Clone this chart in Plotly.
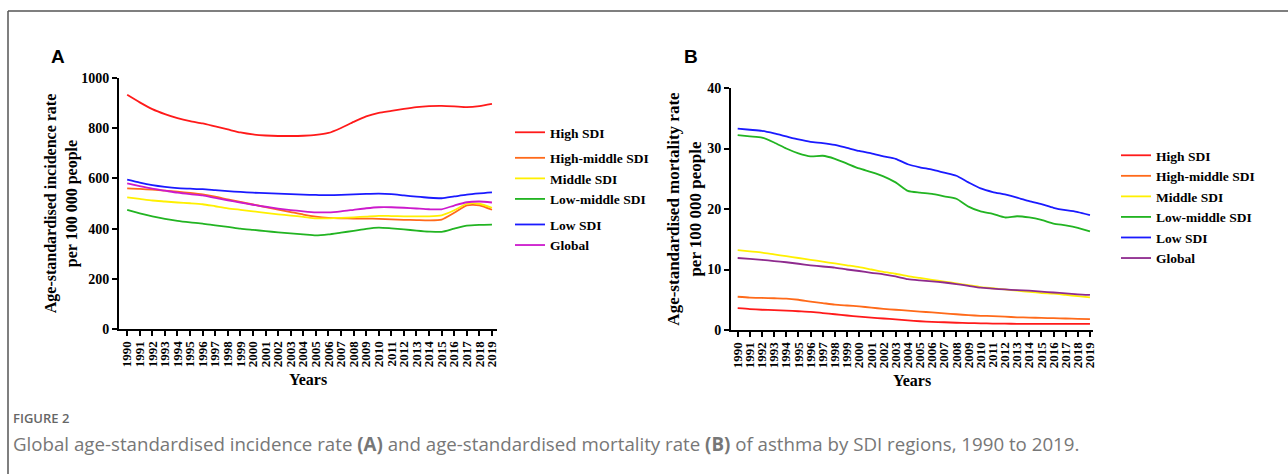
import plotly.graph_objects as go

years = list(range(1990, 2020))
series_names = ["High SDI", "High-middle SDI", "Middle SDI", "Low-middle SDI", "Low SDI", "Global"]
legend_groups_a = ["g1", "g2", "g2", "g2", "g3", "g3"]

# Panel A: age-standardised incidence rate per 100 000
inc_high = [933, 903, 876, 856, 840, 828, 819, 807, 795, 783, 775, 771, 769, 769, 770, 773, 781, 801, 825, 847, 861, 869, 877, 884, 888, 889, 887, 884, 888, 897]
inc_high_middle = [560, 558, 555, 551, 547, 542, 536, 527, 516, 506, 496, 486, 476, 466, 456, 448, 443, 441, 440, 440, 439, 437, 435, 434, 433, 436, 463, 493, 493, 475]
inc_middle = [524, 518, 512, 508, 504, 501, 497, 489, 481, 475, 469, 463, 457, 452, 447, 441, 441, 443, 445, 448, 451, 450, 449, 449, 449, 453, 473, 499, 499, 483]
inc_low_middle = [475, 461, 449, 439, 431, 425, 420, 413, 407, 400, 395, 390, 385, 381, 377, 373, 377, 384, 391, 399, 404, 401, 397, 392, 388, 387, 400, 412, 415, 416]
inc_low = [595, 583, 573, 566, 561, 559, 557, 553, 549, 546, 543, 541, 539, 537, 535, 534, 533, 534, 536, 538, 539, 537, 532, 527, 523, 521, 528, 535, 540, 544]
inc_global = [580, 569, 559, 551, 543, 537, 532, 522, 513, 504, 495, 487, 480, 474, 469, 465, 465, 469, 475, 481, 485, 485, 483, 480, 477, 477, 492, 505, 508, 504]

# Panel B: age-standardised mortality rate per 100 000
mort_high = [3.6, 3.45, 3.35, 3.3, 3.2, 3.1, 3.0, 2.8, 2.6, 2.4, 2.2, 2.05, 1.9, 1.75, 1.6, 1.45, 1.35, 1.28, 1.2, 1.15, 1.1, 1.07, 1.05, 1.02, 1.0, 1.0, 1.0, 1.0, 1.0, 1.0]
mort_high_middle = [5.5, 5.35, 5.3, 5.25, 5.2, 5.0, 4.7, 4.45, 4.2, 4.05, 3.9, 3.7, 3.5, 3.35, 3.2, 3.05, 2.9, 2.75, 2.6, 2.45, 2.35, 2.3, 2.2, 2.1, 2.05, 2.0, 1.95, 1.9, 1.85, 1.8]
mort_middle = [13.2, 13.0, 12.8, 12.5, 12.2, 11.9, 11.6, 11.3, 11.0, 10.7, 10.4, 10.0, 9.6, 9.3, 8.9, 8.6, 8.3, 8.0, 7.7, 7.4, 7.1, 6.9, 6.7, 6.5, 6.3, 6.1, 6.0, 5.8, 5.6, 5.4]
mort_low_middle = [32.2, 32.0, 31.8, 31.0, 30.0, 29.2, 28.7, 28.8, 28.3, 27.5, 26.7, 26.1, 25.4, 24.4, 23.0, 22.7, 22.5, 22.1, 21.7, 20.4, 19.6, 19.2, 18.6, 18.8, 18.6, 18.2, 17.6, 17.3, 16.9, 16.3]
mort_low = [33.3, 33.1, 32.9, 32.5, 32.0, 31.5, 31.1, 30.9, 30.6, 30.1, 29.6, 29.2, 28.7, 28.3, 27.4, 26.9, 26.5, 26.0, 25.5, 24.4, 23.4, 22.8, 22.4, 21.9, 21.3, 20.8, 20.2, 19.8, 19.5, 19.0]
mort_global = [11.9, 11.75, 11.6, 11.4, 11.2, 10.95, 10.7, 10.5, 10.3, 10.0, 9.75, 9.45, 9.2, 8.85, 8.4, 8.2, 8.05, 7.85, 7.6, 7.3, 7.0, 6.85, 6.7, 6.6, 6.5, 6.35, 6.2, 6.05, 5.9, 5.8]

colors_a = ["#FF1A1A", "#FF6A1A", "#FFF000", "#22B422", "#1A1AFF", "#CC1ACC"]
colors_b = ["#FF1A1A", "#FF6A1A", "#FFF000", "#22B422", "#1A1AFF", "#8E2A8E"]

W, H = 1288, 474
SERIF = "Liberation Serif, Times New Roman, serif"
SANS = "Liberation Sans, Arial, sans-serif"

fig = go.Figure()

for name, vals, col, grp in zip(series_names,
                                [inc_high, inc_high_middle, inc_middle, inc_low_middle, inc_low, inc_global],
                                colors_a, legend_groups_a):
    fig.add_trace(go.Scatter(x=years, y=vals, name=name, mode="lines", legendgroup=grp,
                             line=dict(color=col, width=1.8, shape="spline", smoothing=0.6),
                             xaxis="x", yaxis="y", legend="legend"))

for name, vals, col in zip(series_names,
                           [mort_high, mort_high_middle, mort_middle, mort_low_middle, mort_low, mort_global],
                           colors_b):
    fig.add_trace(go.Scatter(x=years, y=vals, name=name, mode="lines",
                             line=dict(color=col, width=1.8, shape="spline", smoothing=0.6),
                             xaxis="x2", yaxis="y2", legend="legend2"))

def px_x(p):
    return p / W

def px_y(p):
    return 1 - p / H

tickfont_x = dict(family=SERIF, size=13, color="black", weight="bold")
tickfont_y = dict(family=SERIF, size=14, color="black", weight="bold")
titlefont = dict(family=SERIF, size=16, color="black", weight="bold")
titlefont_b = dict(family=SERIF, size=17, color="black", weight="bold")
legfont = dict(family=SERIF, size=13.5, color="black", weight="bold")

common_x = dict(tickmode="array", tickvals=years, ticktext=[str(y) for y in years],
                tickangle=-90, ticks="outside", ticklen=5, tickwidth=1.5, tickcolor="black",
                showline=True, linecolor="black", linewidth=2, showgrid=False, zeroline=False,
                tickfont=tickfont_x, automargin=False,
                title=dict(text="Years", font=titlefont, standoff=8))
common_y = dict(ticks="outside", ticklen=5, tickwidth=1.5, tickcolor="black",
                showline=True, linecolor="black", linewidth=2, showgrid=False, zeroline=False,
                tickfont=tickfont_y, automargin=False)

fig.update_layout(
    width=W, height=H, autosize=False,
    margin=dict(l=0, r=0, t=0, b=0, pad=0, autoexpand=False),
    paper_bgcolor="white", plot_bgcolor="white",
    xaxis=dict(common_x, domain=[px_x(119), px_x(497)], range=[1989.35, 2019.4], anchor="y"),
    yaxis=dict(common_y, domain=[px_y(329), px_y(78)], range=[0, 1000], anchor="x",
               tickvals=[0, 200, 400, 600, 800, 1000],
               title=dict(text="Age-standardised incidence rate<br>per 100 000 people", font=titlefont, standoff=0)),
    xaxis2=dict(common_x, domain=[px_x(731), px_x(1093)], range=[1989.45, 2019.25], anchor="y2"),
    yaxis2=dict(common_y, domain=[px_y(330), px_y(88)], range=[0, 40], anchor="x2",
                tickvals=[0, 10, 20, 30, 40],
                title=dict(text="Age-standardised mortality rate<br>per 100 000 people", font=titlefont_b, standoff=1)),
    legend=dict(x=px_x(510), y=px_y(117), xanchor="left", yanchor="top", font=legfont,
                itemwidth=30, bgcolor="rgba(0,0,0,0)", tracegroupgap=5),
    legend2=dict(x=px_x(1116), y=px_y(140), xanchor="left", yanchor="top", font=legfont,
                 itemwidth=30, bgcolor="rgba(0,0,0,0)"),
    showlegend=True,
)

fig.add_annotation(text="<b>A</b>", x=px_x(49), y=px_y(57), xref="paper", yref="paper",
                   xanchor="left", yanchor="middle", showarrow=False,
                   font=dict(family=SANS, size=19, color="black"))
fig.add_annotation(text="<b>B</b>", x=px_x(682), y=px_y(57), xref="paper", yref="paper",
                   xanchor="left", yanchor="middle", showarrow=False,
                   font=dict(family=SANS, size=19, color="black"))
fig.add_annotation(text="FIGURE 2", x=px_x(11), y=px_y(418), xref="paper", yref="paper",
                   xanchor="left", yanchor="middle", showarrow=False,
                   font=dict(family="Open Sans, sans-serif", size=13, color="#666666", weight=600))
fig.add_annotation(text="Global age-standardised incidence rate <b>(A)</b> and age-standardised mortality rate <b>(B)</b> of asthma by SDI regions, 1990 to 2019.",
                   x=px_x(11), y=px_y(443), xref="paper", yref="paper",
                   xanchor="left", yanchor="middle", showarrow=False,
                   font=dict(family="Open Sans, sans-serif", size=18.7, color="#777777"))

# figure frame (top and left edges)
fig.add_shape(type="line", xref="paper", yref="paper", x0=px_x(8), x1=1, y0=px_y(11), y1=px_y(11),
              line=dict(color="#555555", width=1.5))
fig.add_shape(type="line", xref="paper", yref="paper", x0=px_x(8), x1=px_x(8), y0=px_y(11), y1=0,
              line=dict(color="#555555", width=1.5))

fig.write_html("out.html")
